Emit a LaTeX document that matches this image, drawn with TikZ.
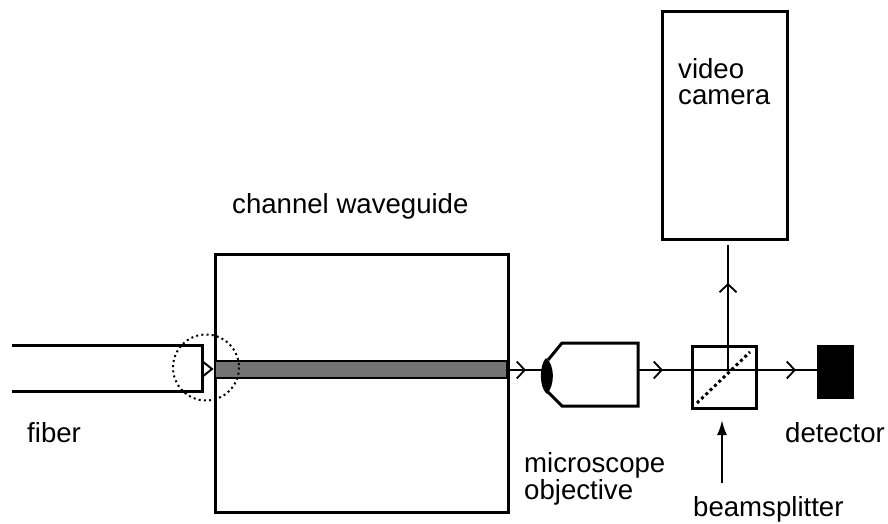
\documentclass[tikz,border=0pt]{standalone}
\usepackage{fontspec}
\setmainfont{Liberation Sans}
\usetikzlibrary{arrows.meta}
\tikzset{
  wall/.style={draw,line width=3pt},
  thin beam/.style={line width=1.6pt},
  beam tip/.style={-{Straight Barb[length=8pt,width=17pt,line width=1.8pt]}},
  caption/.style={inner sep=0pt,font=\fontsize{27.6}{26.5}\selectfont,align=left,anchor=base west}
}
\begin{document}
\begin{tikzpicture}[x=1pt,y=-1pt]
   \useasboundingbox (0,0) rectangle (888,524);

   % fiber
   \coordinate (F1) at (12,345);
   \coordinate (F2) at (202,345);
   \coordinate (F3) at (202,391);
   \coordinate (F4) at (12,391);
   \draw[wall] (F1) -- (F2) -- (F3) -- (F4);
   \draw[line width=2pt] (202,361) -- (212,369) -- (202,377);
   \node[caption] (fiber) at (27,442) {fiber};

   % waveguide
   \node[wall,minimum width=293pt,minimum height=258pt,inner sep=0pt] (guide) at (361.5,383) {};
   \draw[fill=black!55,line width=2.6pt] (215,361) rectangle (507,378);
   \node[caption] (guidetext) at (232,213) {channel waveguide};
   \draw[line width=2pt,dash pattern=on 2pt off 3.2pt] (206,367.5) circle (33);

   % objective
   \coordinate (lens) at (546,370);
   \draw[wall] (548,360) -- (562,343) -- (638,343) -- (638,406) -- (562,406) -- (548,392);
   \fill (546,358) .. controls (555,365) and (555,385) .. (547,394) .. controls (539,388) and (539,365) .. (546,358);
   \node[caption] (objtext) at (524,499) {microscope\\objective};

   % beamsplitter
   \node[wall,minimum width=64pt,minimum height=62pt,inner sep=0pt] (cube) at (724,377) {};
   \draw[line width=3pt,dash pattern=on 3pt off 3pt] (697,403) -- (750,352);
   \node[caption] (cubetext) at (693,516) {beamsplitter};
   \coordinate (P1) at (722,420);
   \coordinate (P2) at (722,483);
   \draw[line width=2.2pt,-{Latex[length=15pt,width=10pt]}] (P2) -- (P1);

   % detector
   \node[fill,minimum width=37pt,minimum height=54pt,inner sep=0pt] (det) at (835.5,372) {};
   \node[caption] (dettext) at (785,442) {detector};

   % camera
   \node[wall,minimum width=125pt,minimum height=227pt,inner sep=0pt] (cam) at (724.5,125.5) {};
   \node[caption] (camtext) at (678,105) {video\\camera};

   % beam
   \coordinate (B0) at (507,370);
   \coordinate (B1) at (526,370);
   \coordinate (B2) at (663,370);
   \coordinate (B3) at (796,370);
   \coordinate (O1) at (638,370);
   \draw[thin beam] (B0) -- (lens);
   \draw[thin beam] (O1) -- (det.west |- O1);
   \draw[thin beam,beam tip] (B0) -- (B1);
   \draw[thin beam,beam tip] (O1) -- (B2);
   \draw[thin beam,beam tip] (cube.east |- B3) -- (B3);
   \coordinate (U1) at (728,370);
   \coordinate (U2) at (728,245);
   \coordinate (U3) at (728,283);
   \draw[line width=1.2pt] (U1) -- (U2);
   \draw[thin beam,beam tip] (U1 |- cube.north) -- (U3);
\end{tikzpicture}
\end{document}
